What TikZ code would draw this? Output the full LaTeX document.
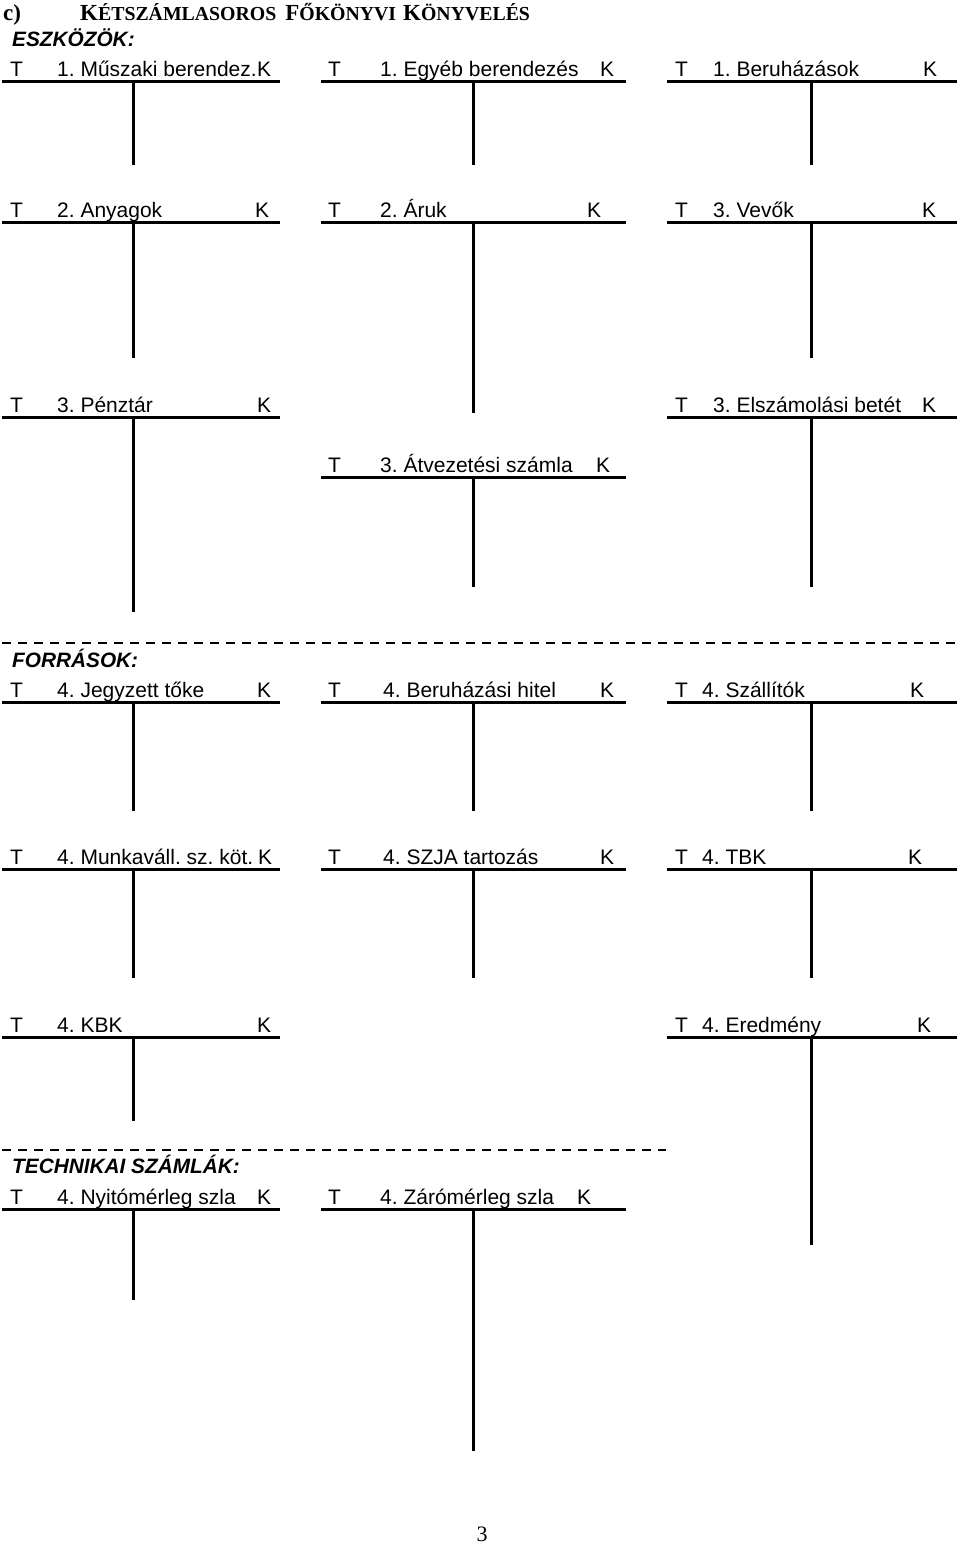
\documentclass[tikz,border=0pt]{standalone}
\usepackage{fontspec}
\setmainfont{Liberation Sans}
\newfontfamily\titleserif{Liberation Serif}
\AtBeginDocument{\frenchspacing}
\newcommand{\bigc}[1]{{\fontsize{23}{24}\selectfont #1}}
\newcommand{\smc}[1]{{\fontsize{19.8}{24}\selectfont #1}}
% generic T-account: name, xl, xr, xv, y, yend, title x, title, T x
\newcommand{\acctgen}[9]{%
  \coordinate (#1-l) at (#2,#5);
  \coordinate (#1-r) at (#3,#5);
  \coordinate (#1-t) at (#4,#5);
  \coordinate (#1-b) at (#4,#6);
  \draw[hline] (#1-l) -- (#1-r);
  \draw[vline] (#1-t) -- (#1-b);
  \node[lbl] (#1-T) at (#9,#5-5) {T};
  \node[lbl] (#1-n) at (#7,#5-5) {#8};
}
% column macros: name, y, yend, title x, title, K x
\newcommand{\acctA}[6]{\acctgen{#1}{2}{280}{133}{#2}{#3}{#4}{#5}{10}\node[lbl] (#1-K) at (#6,#2-5) {K};}
\newcommand{\acctB}[6]{\acctgen{#1}{321}{626}{473}{#2}{#3}{#4}{#5}{328}\node[lbl] (#1-K) at (#6,#2-5) {K};}
\newcommand{\acctC}[6]{\acctgen{#1}{667}{957}{811}{#2}{#3}{#4}{#5}{675}\node[lbl] (#1-K) at (#6,#2-5) {K};}
\begin{document}
\begin{tikzpicture}[x=1pt,y=-1pt,
  hline/.style={line width=3pt},
  vline/.style={line width=3pt},
  lbl/.style={anchor=base west, inner sep=0pt, font=\fontsize{21}{24}\selectfont},
  sect/.style={anchor=base west, inner sep=0pt, font=\fontsize{20.8}{24}\selectfont\bfseries\itshape},
  ttl/.style={anchor=base west, inner sep=0pt, font=\titleserif\bfseries},
  sep/.style={line width=2pt, dash pattern=on 9pt off 7pt}]
\useasboundingbox (0,0) rectangle (960,1543);

% title
\node[ttl] (c) at (3,20) {\bigc{c)}};
\node[ttl] (title) at (80,20) {\bigc{K}\smc{ÉTSZÁMLASOROS}\hspace{9pt}\bigc{F}\smc{ŐKÖNYVI}\hspace{7pt}\bigc{K}\smc{ÖNYVELÉS}};

% ESZKÖZÖK
\node[sect] (eszk) at (12,46) {ESZKÖZÖK:};
\acctA{a1}{81}{165}{57}{1. Műszaki berendez.}{257}
\acctB{b1}{81}{165}{380}{1. Egyéb berendezés}{600}
\acctC{c1}{81}{165}{713}{1. Beruházások}{923}

\acctA{a2}{222}{358}{57}{2. Anyagok}{255}
\acctB{b2}{222}{413}{380}{2. Áruk}{587}
\acctC{c2}{222}{358}{713}{3. Vevők}{922}

\acctA{a3}{417}{612}{57}{3. Pénztár}{257}
\acctC{c3}{417}{587}{713}{3. Elszámolási betét}{922}
\acctB{b3}{477}{587}{380}{3. Átvezetési számla}{596}

% separator 1
\coordinate (s1l) at (2,643);
\coordinate (s1r) at (957,643);
\draw[sep] (s1l) -- (s1r);

% FORRÁSOK
\node[sect] (forr) at (12,667) {FORRÁSOK:};
\acctA{a4}{702}{811}{57}{4. Jegyzett tőke}{257}
\acctB{b4}{702}{811}{383}{4. Beruházási hitel}{600}
\acctC{c4}{702}{811}{702}{4. Szállítók}{910}

\acctA{a5}{869}{978}{57}{4. Munkaváll. sz. köt.}{258}
\acctB{b5}{869}{978}{383}{4. SZJA tartozás}{600}
\acctC{c5}{869}{978}{702}{4. TBK}{908}

\acctA{a6}{1037}{1121}{57}{4. KBK}{257}
\acctC{c6}{1037}{1245}{702}{4. Eredmény}{917}

% separator 2
\coordinate (s2l) at (2,1150);
\coordinate (s2r) at (666,1150);
\draw[sep] (s2l) -- (s2r);

% TECHNIKAI SZÁMLÁK
\node[sect] (tech) at (12,1173) {TECHNIKAI SZÁMLÁK:};
\acctA{a7}{1209}{1300}{57}{4. Nyitómérleg szla}{257}
\acctB{b7}{1209}{1451}{380}{4. Zárómérleg szla}{577}

% page number
\node[anchor=base, inner sep=0pt, font=\titleserif\fontsize{22}{24}\selectfont] (pg) at (482,1541) {3};
\end{tikzpicture}
\end{document}
